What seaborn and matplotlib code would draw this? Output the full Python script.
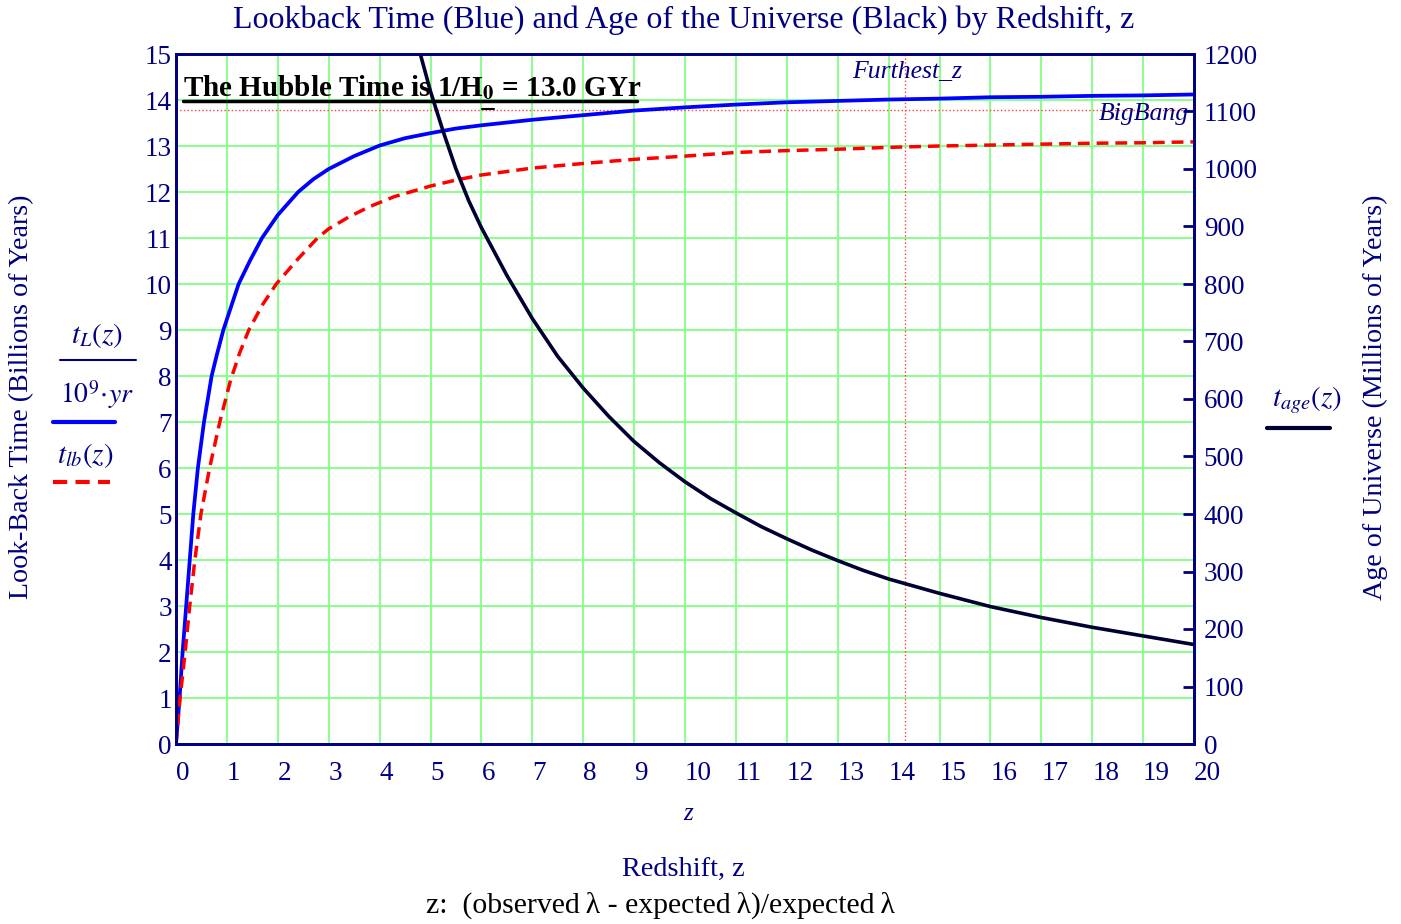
import numpy as np
import pandas as pd
import matplotlib
matplotlib.use("Agg")
import matplotlib.pyplot as plt
from matplotlib.lines import Line2D
import seaborn as sns

NAVY = "#000080"
AGE_COLOR = "#000033"

# look-back time t_L(z)/1e9 yr (blue, left axis, Gyr)
z_blue = [0, 0.07, 0.13, 0.2, 0.27, 0.34, 0.43, 0.55, 0.7, 0.8, 0.93, 1.23, 1.45, 1.69,
          2.0, 2.4, 2.7, 3.0, 3.5, 4.0, 4.5, 5.0, 5.5, 6.0, 7.0, 8.0, 9.0, 10.0, 11.0,
          12.0, 13.0, 14.0, 15.0, 16.0, 17.0, 18.0, 19.0, 20.0]
lookback_blue = [0, 1.0, 2.0, 3.0, 4.0, 5.0, 6.0, 7.0, 8.0, 8.45, 9.0, 10.0, 10.5, 11.0,
                 11.5, 12.0, 12.28, 12.5, 12.78, 13.01, 13.17, 13.28, 13.38, 13.45, 13.57,
                 13.67, 13.77, 13.84, 13.9, 13.95, 13.98, 14.01, 14.03, 14.06, 14.07,
                 14.09, 14.1, 14.12]

# look-back time t_lb(z) (red dashed, left axis, Gyr)
z_red = [0, 0.08, 0.18, 0.27, 0.37, 0.49, 0.66, 0.86, 1.07, 1.25, 1.43, 1.7, 1.97,
         2.4, 2.78, 3.0, 3.4, 3.8, 4.29, 4.6, 5.0, 5.5, 6.0, 7.0, 8.0, 9.0, 10.0,
         11.0, 12.0, 13.0, 14.0, 15.0, 16.0, 17.0, 18.0, 19.0, 20.0]
lookback_red = [0, 1, 2, 3, 4, 5, 6, 7, 7.9, 8.5, 9, 9.55, 10,
                10.55, 11, 11.2, 11.46, 11.68, 11.9, 12.0, 12.13, 12.26, 12.37, 12.52,
                12.62, 12.71, 12.78, 12.86, 12.9, 12.93, 12.97, 13.0, 13.02, 13.04,
                13.06, 13.07, 13.09]

# age of the universe t_age(z) (black, right axis, Myr)
z_age = [4.8, 5.0, 5.25, 5.5, 5.75, 6.0, 6.5, 7.0, 7.5, 8.0, 8.5, 9.0, 9.5, 10.0,
         10.5, 11.0, 11.5, 12.0, 12.5, 13.0, 13.5, 14.0, 15.0, 16.0, 17.0, 18.0,
         19.0, 20.0]
age_myr = [1200, 1135, 1065, 1000, 945, 898, 815, 740, 674, 619, 570, 526, 489, 456,
           427, 402, 378, 357, 337, 319, 302, 287, 262, 239, 220, 203, 188, 173]

FURTHEST_Z = 14.32
BIG_BANG_GYR = 13.78

x_ticks = list(range(0, 21))
left_ticks = list(range(0, 16))
right_ticks = list(range(0, 1201, 100))

blue_df = pd.DataFrame({"z": z_blue, "t": lookback_blue})
red_df = pd.DataFrame({"z": z_red, "t": lookback_red})
age_df = pd.DataFrame({"z": z_age, "age": age_myr})

sns.set_theme(style="white")
plt.rcParams["font.family"] = ["Liberation Serif", "DejaVu Serif"]
plt.rcParams["mathtext.fontset"] = "stix"

W, H = 1401, 924
fig = plt.figure(figsize=(W / 100, H / 100), dpi=100)


def px(x, y):
    return x / W, 1 - y / H


ax = fig.add_axes([176 / W, 1 - 744 / H, (1194 - 176) / W, (744 - 54) / H])
ax.set_xlim(0, 20)
ax.set_ylim(0, 15)
ax.set_xticks(x_ticks)
ax.set_xticklabels([str(t) for t in x_ticks], ha="left")
ax.set_yticks(left_ticks)
ax.grid(True, color="#80ff80", lw=1.3)
ax.set_axisbelow(True)

ax.axhline(BIG_BANG_GYR, color="#ff4040", lw=1.0, ls=":")
ax.axvline(FURTHEST_Z, color="#ff4040", lw=1.0, ls=":")

sns.lineplot(data=blue_df, x="z", y="t", ax=ax, color="#0000ff", lw=2.7,
             sort=False, estimator=None)
sns.lineplot(data=red_df, x="z", y="t", ax=ax, color="#ff0000", lw=2.5,
             sort=False, estimator=None)
ax.lines[-1].set_dashes([3.4, 2.0])
ax.set_xlabel("")
ax.set_ylabel("")

for s in ax.spines.values():
    s.set_color(NAVY)
    s.set_linewidth(2)
ax.tick_params(axis="x", length=0, pad=12, labelsize=19.5, labelcolor=NAVY)
ax.tick_params(axis="y", length=0, pad=3, labelsize=19.5, labelcolor=NAVY)

ax2 = ax.twinx()
sns.lineplot(data=age_df, x="z", y="age", ax=ax2, color=AGE_COLOR, lw=2.6,
             sort=False, estimator=None)
ax2.set_ylim(0, 1200)
ax2.set_yticks(right_ticks)
ax2.set_ylabel("")
ax2.set_xlabel("")
ax2.grid(False)
for s in ax2.spines.values():
    s.set_color(NAVY)
    s.set_linewidth(2)
ax2.tick_params(axis="y", direction="in", length=8, width=2, color=NAVY,
                pad=7, labelsize=19.5, labelcolor=NAVY)

# texts inside the plot
fig.text(*px(183, 88), r"The Hubble Time is 1/H$_\mathbf{0}$ = 13.0 GYr",
         fontsize=21, fontweight="bold", color="black", ha="left", va="center")
fig.add_artist(Line2D([183 / W, 637 / W], [1 - 101 / H] * 2, color="black", lw=2.5))
fig.add_artist(Line2D([482 / W, 494 / W], [1 - 109 / H] * 2, color="black", lw=1.5))
fig.text(*px(852, 72), "Furthest_z", fontsize=18.5, style="italic", color=NAVY,
         ha="left", va="center")
fig.text(*px(1189, 114), "BigBang", fontsize=18.5, style="italic", color=NAVY,
         ha="right", va="center")

# title and axis labels
fig.text(*px(684, 20), "Lookback Time (Blue) and Age of the Universe (Black) by Redshift, z",
         fontsize=23, color=NAVY, ha="center", va="center")
fig.text(*px(22, 397), "Look-Back Time (Billions of Years)", rotation=90,
         fontsize=20.2, color=NAVY, ha="center", va="center")
fig.text(*px(1375, 397), "Age of Universe (Millions of Years)", rotation=90,
         fontsize=20.2, color=NAVY, ha="center", va="center")
fig.text(*px(688, 814), "z", fontsize=18, style="italic", color=NAVY,
         ha="center", va="center")
fig.text(*px(683, 869), "Redshift, z", fontsize=20.3, color=NAVY,
         ha="center", va="center")
fig.text(*px(660, 905), "z:  (observed\u2009\u03bb - expected\u2009\u03bb)/expected\u2009\u03bb",
         fontsize=21.4, color="black", ha="center", va="center")

# left legend
fig.text(*px(97, 335), r"$t_L(z)$", fontsize=21, color=NAVY, ha="center", va="center")
fig.add_artist(Line2D([60 / W, 136 / W], [1 - 360 / H] * 2, color=NAVY, lw=1.5))
fig.text(*px(97, 395), r"$10^9\!\cdot\! yr$", fontsize=20, color=NAVY, ha="center", va="center")
fig.add_artist(Line2D([53 / W, 115 / W], [1 - 422 / H] * 2, color="#0000ff", lw=3))
fig.text(*px(85, 455), r"$t_{lb}(z)$", fontsize=21, color=NAVY, ha="center", va="center")
fig.add_artist(Line2D([53 / W, 110 / W], [1 - 482 / H] * 2, color="#ff0000", lw=3,
                      dashes=[3.4, 2.0]))

# right legend
fig.text(*px(1307, 400), r"$t_{age}(z)$", fontsize=21, color=NAVY, ha="center", va="center")
fig.add_artist(Line2D([1267 / W, 1330 / W], [1 - 428 / H] * 2, color=AGE_COLOR, lw=3))

fig.savefig("out.png", dpi=100)
